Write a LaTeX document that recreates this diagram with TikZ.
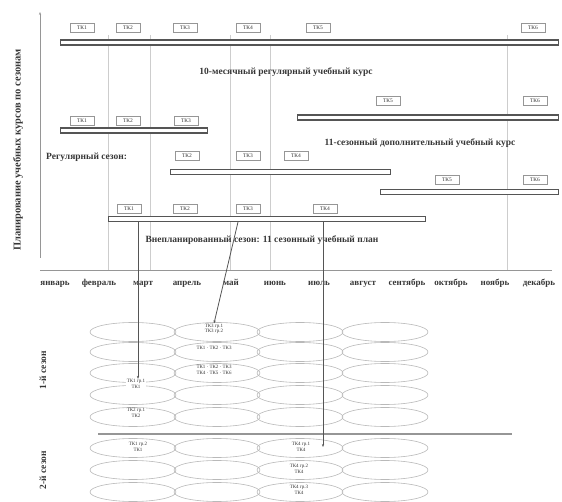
\documentclass[tikz,border=0pt]{standalone}
\usepackage{fontspec}
\setmainfont{Liberation Serif}
\usetikzlibrary{positioning,arrows.meta,calc,shapes.geometric}
\definecolor{bardark}{RGB}{85,85,85}
\definecolor{gridgray}{RGB}{205,205,205}
\definecolor{ovalgray}{RGB}{185,185,185}
\definecolor{axisgray}{RGB}{150,150,150}
\definecolor{textgray}{RGB}{55,55,55}
\tikzset{
    bar/.style={draw=bardark, fill=white, line width=1.4pt, minimum height=5pt, inner sep=0pt, anchor=west},
    tag/.style={draw=axisgray, fill=white, font=\fontsize{5.5}{5.5}\selectfont, text=textgray, minimum width=24pt, minimum height=9pt, inner sep=0pt},
    caption/.style={font=\fontsize{9.5}{10}\selectfont\bfseries, text=textgray, inner sep=1pt},
    month/.style={font=\fontsize{9}{10}\selectfont\bfseries, text=textgray, inner sep=0pt, anchor=base},
    oval/.style={ellipse, draw=ovalgray, line width=0.6pt, minimum width=86pt, minimum height=19pt, inner sep=0pt},
    note/.style={font=\fontsize{5}{5.5}\selectfont, align=center, text=textgray, fill=white, inner sep=0.5pt},
    vline/.style={draw=gridgray, line width=0.6pt},
    axis/.style={draw=axisgray, line width=0.8pt},
    arrow/.style={-{Stealth[length=3pt]}, line width=0.8pt, draw=bardark}
}

\begin{document}
\begin{tikzpicture}[x=1pt, y=-1pt]
\useasboundingbox (0,0) rectangle (562,502);

% grid and axes
\foreach \gx in {108,150,230,270,507}
    \draw[vline] (\gx,35) -- (\gx,270);
\draw[axis, -{Stealth[length=3pt]}] (40,258) -- (40,12);
\draw[axis] (40,270) -- (552,270);
\node[caption, rotate=90, font=\fontsize{10.5}{11}\selectfont\bfseries] (ylab) at (18,150) {Планирование учебных курсов по сезонам};

% courses
\node[bar, minimum width=498pt] (b1) at (60,42.5) {};
\node[bar, minimum width=147pt] (b2) at (60,130.5) {};
\node[bar, minimum width=261pt] (b3) at (297,117.5) {};
\node[bar, minimum width=220pt] (b4) at (170,172) {};
\node[bar, minimum width=178pt] (b5) at (380,192) {};
\node[bar, minimum width=317pt] (b6) at (108,219) {};

\node[tag] (t11) at (82,27.5) {ТК1};
\node[tag] (t12) at (128,27.5) {ТК2};
\node[tag] (t13) at (185,27.5) {ТК3};
\node[tag] (t14) at (248,27.5) {ТК4};
\node[tag] (t15) at (318,27.5) {ТК5};
\node[tag] (t16) at (533,27.5) {ТК6};
\node[tag] (t21) at (82,121) {ТК1};
\node[tag] (t22) at (128,121) {ТК2};
\node[tag] (t23) at (186,121) {ТК3};
\node[tag] (t31) at (388,101) {ТК5};
\node[tag] (t32) at (535,101) {ТК6};
\node[tag] (t41) at (187,156) {ТК2};
\node[tag] (t42) at (248,156) {ТК3};
\node[tag] (t43) at (296,156) {ТК4};
\node[tag] (t51) at (447,180) {ТК5};
\node[tag] (t52) at (535,180) {ТК6};
\node[tag] (t61) at (129,209) {ТК1};
\node[tag] (t62) at (185,209) {ТК2};
\node[tag] (t63) at (248,209) {ТК3};
\node[tag] (t64) at (325,209) {ТК4};

\node[caption] (c1) at (286,72) {10-месячный регулярный учебный курс};
\node[caption] (c2) at (420,143) {11-сезонный дополнительный учебный курс};
\node[caption, anchor=west] (c3) at (45,157) {Регулярный сезон:};
\node[caption] (c4) at (262,240) {Внепланированный сезон: 11 сезонный учебный план};

% months
\foreach \m [count=\i from 0] in {январь,февраль,март,апрель,май,июнь,июль,август,сентябрь,октябрь,ноябрь,декабрь}
    \node[month] (m\i) at (55+44*\i,286) {\m};

% seasons
\foreach \ox in {133,217,300,385}
    \foreach \oy in {332,352,373,395,417,448,470,492}
        \node[oval] (o-\ox-\oy) at (\ox,\oy) {};
\draw[axis, line width=1.2pt] (98,434) -- (512,434);
\node[caption, rotate=90] (s1) at (43,370) {1-й сезон};
\node[caption, rotate=90] (s2) at (43,470) {2-й сезон};

\node[note] (n1) at (214,329) {ТК3 гр.1\\ТК3 гр.2};
\node[note] (n2) at (214,348) {ТК1 · ТК2 · ТК3};
\node[note] (n3) at (214,370) {ТК1 · ТК2 · ТК3\\ТК4 · ТК5 · ТК6};
\node[note] (n4) at (136,384) {ТК1 гр.1\\ТК1};
\node[note] (n5) at (136,413) {ТК2 гр.1\\ТК2};
\node[note] (n6) at (138,447) {ТК1 гр.2\\ТК1};
\node[note] (n7) at (301,447) {ТК4 гр.1\\ТК4};
\node[note] (n8) at (299,469) {ТК4 гр.2\\ТК4};
\node[note] (n9) at (299,490) {ТК4 гр.3\\ТК4};

% links
\coordinate (a1) at (138,222);
\coordinate (a2) at (238,222);
\coordinate (a3) at (323,222);
\draw[arrow] (a1) -- (a1 |- n4.north);
\draw[arrow] (a2) -- (n1.north);
\draw[arrow] (a3) -- (a3 |- n7.east);
\end{tikzpicture}
\end{document}
